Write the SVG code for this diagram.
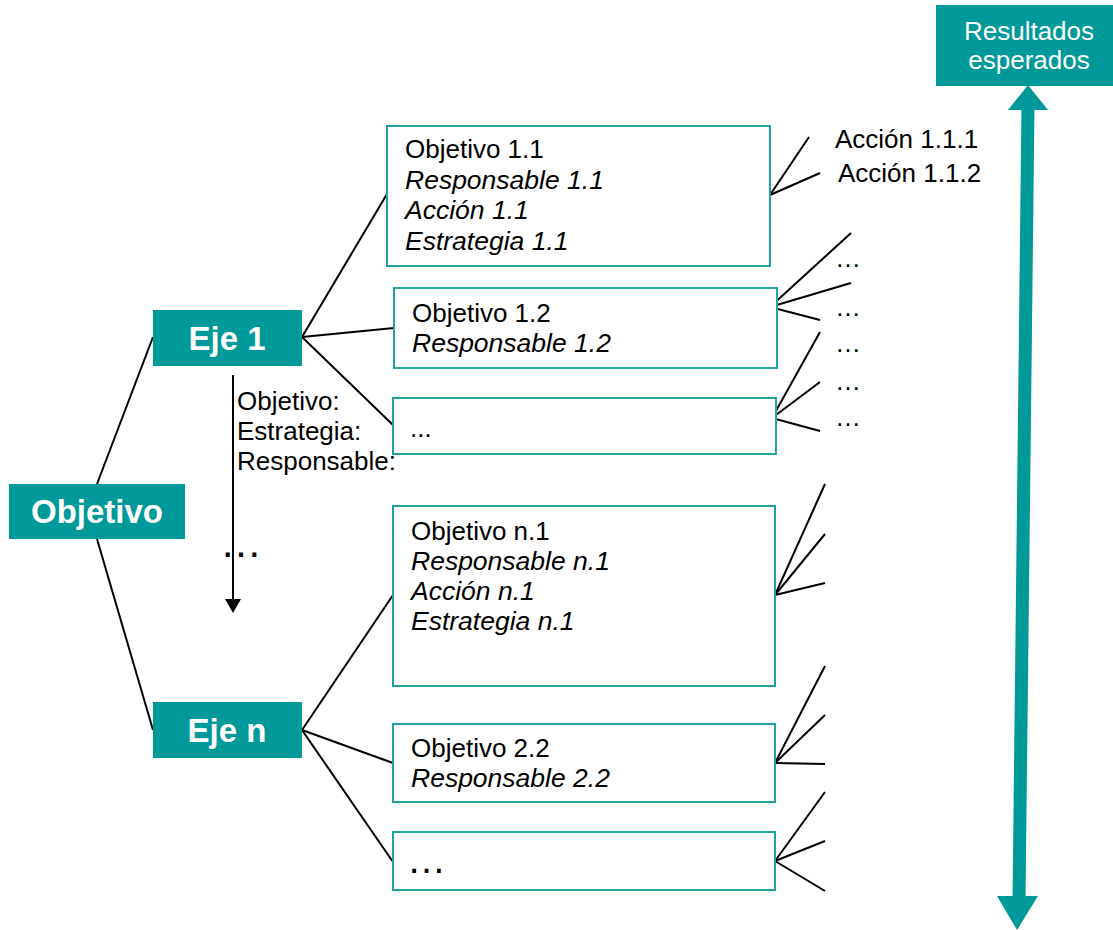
<svg xmlns="http://www.w3.org/2000/svg" width="1113" height="930" viewBox="0 0 1113 930">
<style>
text{font-family:"Liberation Sans",Arial,sans-serif;font-size:26px;fill:#000}
.hdr{fill:#009999}
.hdrt{fill:#fff;font-weight:bold;font-size:33px;text-anchor:middle}
.box{fill:#fff;stroke:#1fa3a3;stroke-width:2}
.it{font-style:italic;font-size:26.5px}
.ln{stroke:#000;stroke-width:2;fill:none}
</style>
<rect width="1113" height="930" fill="#fff"/>
<g id="connectors">
<line class="ln" x1="97" y1="484" x2="153" y2="337"/>
<line class="ln" x1="97" y1="539" x2="153" y2="730"/>
<line class="ln" x1="302" y1="337" x2="387" y2="194"/>
<line class="ln" x1="302" y1="337" x2="394" y2="328"/>
<line class="ln" x1="302" y1="337" x2="393" y2="425"/>
<line class="ln" x1="302" y1="730" x2="393" y2="595"/>
<line class="ln" x1="302" y1="730" x2="393" y2="763"/>
<line class="ln" x1="302" y1="730" x2="393" y2="862"/>
<line class="ln" x1="770" y1="195" x2="809" y2="137"/>
<line class="ln" x1="770" y1="195" x2="820" y2="173"/>
<line class="ln" x1="770" y1="307" x2="851" y2="233"/>
<line class="ln" x1="770" y1="307" x2="851" y2="283"/>
<line class="ln" x1="770" y1="307" x2="820" y2="320"/>
<line class="ln" x1="772" y1="418" x2="820" y2="332"/>
<line class="ln" x1="772" y1="418" x2="820" y2="382"/>
<line class="ln" x1="772" y1="418" x2="820" y2="431"/>
<line class="ln" x1="775" y1="595" x2="825" y2="484"/>
<line class="ln" x1="775" y1="595" x2="825" y2="534"/>
<line class="ln" x1="775" y1="595" x2="825" y2="583"/>
<line class="ln" x1="775" y1="763" x2="825" y2="666"/>
<line class="ln" x1="775" y1="763" x2="825" y2="715"/>
<line class="ln" x1="775" y1="763" x2="825" y2="764"/>
<line class="ln" x1="775" y1="861" x2="825" y2="792"/>
<line class="ln" x1="775" y1="861" x2="825" y2="841"/>
<line class="ln" x1="775" y1="861" x2="825" y2="891"/>
<line class="ln" x1="233" y1="375" x2="233" y2="601"/>
<polygon points="225,599 241,599 233,613" fill="#000"/>
<line x1="1028" y1="106" x2="1019" y2="900" stroke="#009999" stroke-width="13"/>
<polygon points="1028,85 1008,110 1048,110" fill="#009999"/>
<polygon points="997,896 1038,896 1017,930" fill="#009999"/>
</g>
<g id="resultados">
<rect x="936" y="5" width="177" height="81" class="hdr"/>
<text x="1029" y="40" text-anchor="middle" style="fill:#fff">Resultados</text>
<text x="1029" y="69" text-anchor="middle" style="fill:#fff">esperados</text>
</g>
<g id="objetivo">
<rect x="9" y="484" width="176" height="55" class="hdr"/>
<text x="97" y="523" class="hdrt">Objetivo</text>
</g>
<g id="eje1">
<rect x="153" y="310" width="149" height="56" class="hdr"/>
<text x="227" y="350" class="hdrt">Eje 1</text>
</g>
<g id="ejen">
<rect x="153" y="702" width="149" height="56" class="hdr"/>
<text x="227" y="742" class="hdrt">Eje n</text>
</g>
<g id="obj11">
<rect x="387" y="126" width="383" height="140" class="box"/>
<text x="405" y="158">Objetivo 1.1</text>
<text x="405" y="189" class="it">Responsable 1.1</text>
<text x="405" y="219" class="it">Acción 1.1</text>
<text x="405" y="250" class="it">Estrategia 1.1</text>
</g>
<g id="obj12">
<rect x="394" y="288" width="383" height="80" class="box"/>
<text x="412" y="322">Objetivo 1.2</text>
<text x="412" y="352" class="it">Responsable 1.2</text>
</g>
<g id="obj13">
<rect x="393" y="398" width="383" height="56" class="box"/>
<text x="410" y="437">...</text>
</g>
<g id="objn1">
<rect x="393" y="506" width="382" height="180" class="box"/>
<text x="411" y="540">Objetivo n.1</text>
<text x="411" y="570" class="it">Responsable n.1</text>
<text x="411" y="600" class="it">Acción n.1</text>
<text x="411" y="630" class="it">Estrategia n.1</text>
</g>
<g id="obj22">
<rect x="393" y="724" width="382" height="78" class="box"/>
<text x="411" y="757">Objetivo 2.2</text>
<text x="411" y="787" class="it">Responsable 2.2</text>
</g>
<g id="objn3">
<rect x="393" y="832" width="382" height="58" class="box"/>
<text x="407" y="873" style="font-size:39px">…</text>
</g>
<g id="eje-labels">
<text x="237" y="410">Objetivo:</text>
<text x="237" y="440">Estrategia:</text>
<text x="237" y="470">Responsable:</text>
<text x="220" y="557" style="font-size:42px">…</text>
</g>
<g id="acciones">
<text x="835" y="148">Acción 1.1.1</text>
<text x="838" y="182">Acción 1.1.2</text>
<text x="835" y="267">…</text>
<text x="835" y="316">…</text>
<text x="835" y="352">…</text>
<text x="835" y="390">…</text>
<text x="835" y="426">…</text>
</g>
</svg>
